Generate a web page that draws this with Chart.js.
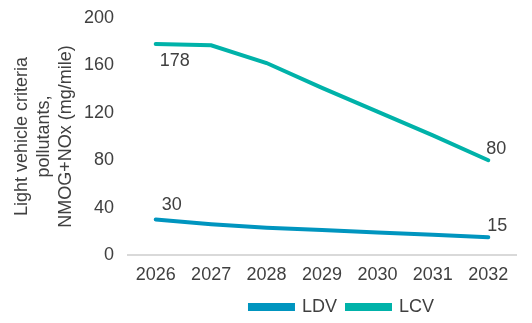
<!DOCTYPE html>
<html lang="en">
<head>
    <meta charset="UTF-8">
    <title>Light vehicle criteria pollutants</title>
    <script src="https://cdn.jsdelivr.net/npm/chart.js"></script>
    <style>
        body {
            margin: 0;
            background: #ffffff;
        }
        #wrap {
            width: 532px;
            height: 323px;
        }
    </style>
</head>
<body>
    <div id="wrap"><canvas id="chart" width="532" height="323"></canvas></div>

    <script>
        // data
        const years = ['2026', '2027', '2028', '2029', '2030', '2031', '2032'];
        const ldv = [30, 26, 23, 21, 19, 17, 15];
        const lcv = [178, 177, 162, 141, 121, 101, 80];
        const yTicks = [0, 40, 80, 120, 160, 200];

        const textColor = '#404040';
        const font = 'Arial, "Liberation Sans", sans-serif';

        // value labels next to first / last points
        const valueLabels = {
            id: 'valueLabels',
            afterDatasetsDraw(chart) {
                const ctx = chart.ctx;
                const spots = [
                    { ds: 0, i: 0, dx: 16, dy: -14 },
                    { ds: 0, i: 6, dx: 9, dy: -11 },
                    { ds: 1, i: 0, dx: 19, dy: 17 },
                    { ds: 1, i: 6, dx: 8, dy: -11 }
                ];
                ctx.save();
                ctx.font = '18px ' + font;
                ctx.fillStyle = textColor;
                ctx.textAlign = 'center';
                ctx.textBaseline = 'middle';
                spots.forEach(s => {
                    const pt = chart.getDatasetMeta(s.ds).data[s.i];
                    const val = chart.data.datasets[s.ds].data[s.i];
                    ctx.fillText(String(val), pt.x + s.dx, pt.y + s.dy);
                });
                ctx.restore();
            }
        };

        // legend sits right of centre in the original
        const legendShift = {
            id: 'legendShift',
            afterLayout(chart) {
                chart.legend.left += 79;
                chart.legend.right += 79;
            }
        };

        const ctx = document.getElementById('chart').getContext('2d');
        new Chart(ctx, {
            type: 'line',
            data: {
                labels: years,
                datasets: [{
                    label: 'LDV',
                    data: ldv,
                    borderColor: '#0095BF',
                    backgroundColor: '#0095BF',
                    borderWidth: 4,
                    borderCapStyle: 'round',
                    pointRadius: 0,
                    tension: 0
                }, {
                    label: 'LCV',
                    data: lcv,
                    borderColor: '#00B2A9',
                    backgroundColor: '#00B2A9',
                    borderWidth: 4,
                    borderCapStyle: 'round',
                    pointRadius: 0,
                    tension: 0
                }]
            },
            options: {
                responsive: false,
                animation: false,
                layout: {
                    padding: { left: 10, right: 16, top: 18, bottom: -3 }
                },
                plugins: {
                    legend: {
                        position: 'bottom',
                        labels: {
                            color: textColor,
                            font: { family: font, size: 18 },
                            boxWidth: 43,
                            boxHeight: 4,
                            padding: 10
                        }
                    },
                    tooltip: { enabled: false }
                },
                scales: {
                    x: {
                        offset: true,
                        afterFit: (scale) => {
                            scale.height = 33;
                        },
                        grid: { display: false, drawTicks: false },
                        border: { display: true, color: '#d9d9d9', width: 2 },
                        ticks: {
                            color: textColor,
                            font: { family: font, size: 18 },
                            padding: 9,
                            maxRotation: 0
                        }
                    },
                    y: {
                        min: 0,
                        max: 200,
                        afterBuildTicks: (scale) => {
                            scale.ticks = yTicks.map(v => ({ value: v }));
                        },
                        afterFit: (scale) => {
                            scale.width = 118;
                            scale.paddingTop = 0;
                            scale.paddingBottom = 0;
                        },
                        grid: { display: false, drawTicks: false },
                        border: { display: false },
                        ticks: {
                            color: textColor,
                            font: { family: font, size: 18 },
                            padding: 14
                        },
                        title: {
                            display: true,
                            text: ['Light vehicle criteria', 'pollutants,', 'NMOG+NOx (mg/mile)'],
                            color: textColor,
                            font: { family: font, size: 18, lineHeight: 1.23 },
                            padding: { top: 1, bottom: 0 }
                        }
                    }
                }
            },
            plugins: [valueLabels, legendShift]
        });
    </script>
</body>
</html>
